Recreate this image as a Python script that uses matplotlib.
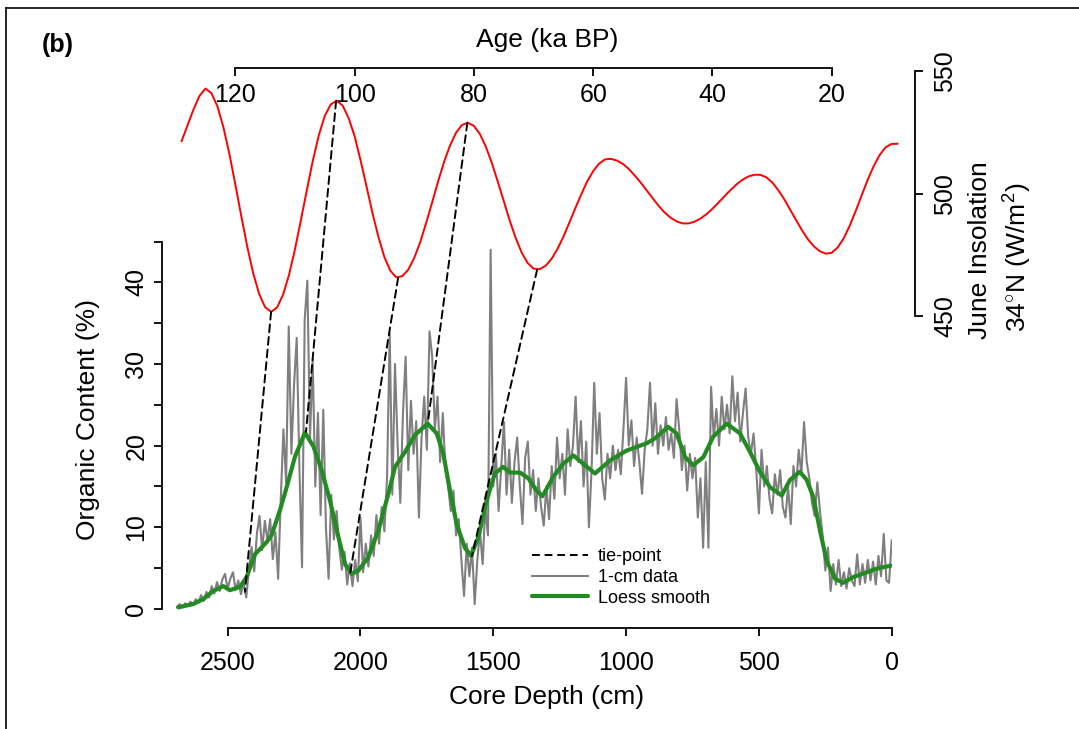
import numpy as np
import matplotlib.pyplot as plt
from matplotlib.lines import Line2D
from matplotlib.patches import ConnectionPatch

plt.rcParams['font.family'] = ['Liberation Sans', 'DejaVu Sans']
plt.rcParams['mathtext.fontset'] = 'custom'
plt.rcParams['mathtext.rm'] = 'Liberation Sans'
plt.rcParams['mathtext.it'] = 'Liberation Sans:italic'

# organic content record, read every 10 cm down the core
depth_cm = np.arange(2690, -1, -10)
organic_pct = [
    0.3, 0.6, 0.2, 0.7, 0.4, 0.9, 0.5, 1.2, 0.8, 1.7,
    1.0, 2.1, 1.4, 2.8, 1.9, 3.3, 2.2, 3.6, 4.3, 2.5,
    3.7, 4.5, 2.3, 3.5, 1.8, 3.2, 1.4, 4.8, 7.6, 4.6,
    9.2, 11.4, 7.2, 10.8, 8.3, 11.0, 6.1, 9.4, 3.7, 13.5,
    22.0, 15.5, 34.6, 19.0, 27.5, 33.2, 17.5, 5.1, 35.4, 40.2,
    21.0, 30.5, 15.0, 24.0, 11.5, 24.4, 10.0, 3.7, 14.0, 8.5,
    12.0, 7.5, 4.8, 7.0, 3.0, 5.6, 2.8, 6.0, 3.4, 11.2,
    4.5, 8.0, 5.2, 9.0, 6.5, 11.5, 8.0, 12.5, 9.5, 16.0,
    33.8, 14.0, 30.0, 20.0, 13.0, 24.0, 30.9, 17.0, 25.5, 19.0,
    23.0, 11.2, 21.0, 26.0, 19.5, 34.0, 30.9, 22.0, 26.0, 18.0,
    24.0, 17.0, 15.0, 12.0, 14.5, 9.0, 11.0, 6.0, 1.6, 8.0,
    4.0, 7.5, 0.6, 6.0, 9.5, 5.5, 12.5, 9.0, 44.0, 15.0,
    19.0, 12.0, 17.5, 22.9, 14.0, 19.5, 13.0, 18.0, 21.0, 15.0,
    10.4, 18.5, 20.5, 14.0, 17.0, 12.0, 16.0, 12.5, 10.2, 15.0,
    11.0, 17.5, 13.5, 21.0, 16.0, 19.0, 14.0, 22.0, 17.5, 20.0,
    26.0, 18.0, 23.0, 15.0, 20.5, 10.0, 17.0, 27.7, 19.0, 24.0,
    16.0, 13.4, 19.0, 16.0, 20.0, 17.0, 19.5, 16.5, 22.0, 28.3,
    20.0, 23.1, 17.5, 21.0, 18.0, 14.1, 19.5, 22.0, 27.7, 20.0,
    25.2, 19.0, 22.5, 20.0, 23.5, 19.5, 21.5, 18.5, 25.7, 22.0,
    17.0, 20.0, 14.5, 19.0, 16.0, 18.5, 11.2, 16.0, 7.5, 18.0,
    7.5, 27.2, 21.0, 24.5, 20.0, 26.0, 22.0, 25.0, 21.5, 28.5,
    23.0, 26.5, 20.5, 24.0, 27.0, 21.0, 19.0, 21.5, 17.0, 11.7,
    19.5, 15.0, 17.5, 13.5, 11.7, 16.5, 14.0, 17.0, 12.5, 11.2,
    15.0, 10.4, 17.5, 15.0, 19.5, 16.5, 22.9, 18.0, 16.0, 13.0,
    11.4, 15.5, 12.0, 9.0, 4.7, 7.5, 2.2, 5.5, 3.0, 6.0,
    2.8, 4.5, 2.5, 5.0, 3.5, 2.8, 6.7, 3.0, 5.5, 3.2,
    6.0, 3.5, 5.8, 3.0, 6.5, 4.0, 9.2, 3.5, 3.2, 8.4,
]

# loess smooth of the record
loess_depth = [2686, 2630, 2592, 2554, 2516, 2492, 2454, 2429, 2397, 2353,
               2335, 2303, 2278, 2247, 2209, 2177, 2146, 2115, 2083, 2058,
               2033, 2008, 1971, 1933, 1895, 1870, 1833, 1795, 1747, 1713,
               1688, 1663, 1638, 1607, 1584, 1556, 1525, 1494, 1463, 1437,
               1399, 1368, 1337, 1315, 1274, 1236, 1198, 1162, 1117, 1060,
               998, 922, 891, 842, 810, 778, 747, 709, 672, 621,
               571, 533, 496, 458, 414, 383, 346, 320, 295, 270,
               245, 213, 183, 145, 94, 50, 3]
loess_oc = [0.2, 0.6, 1.2, 2.2, 2.8, 2.3, 2.7, 3.9, 6.7, 8.2,
            9.0, 12.1, 14.9, 18.6, 21.6, 19.9, 17.0, 13.3, 8.8, 5.5,
            4.3, 4.7, 6.3, 9.6, 14.1, 17.4, 19.2, 21.3, 22.7, 21.5,
            19.0, 14.5, 10.4, 7.5, 6.5, 8.8, 13.3, 16.6, 17.4, 16.7,
            16.7, 16.0, 14.5, 13.8, 16.2, 17.8, 18.8, 17.8, 16.6, 18.2,
            19.4, 20.3, 20.9, 22.3, 21.5, 18.6, 17.6, 18.6, 21.1, 22.7,
            21.5, 19.2, 16.8, 14.9, 13.9, 15.8, 16.8, 15.8, 13.7, 9.6,
            5.9, 3.7, 3.2, 3.9, 4.5, 5.0, 5.3]

# June insolation at 34N
age_ka = np.arange(129, 8, -1)
insolation = [
    521.5, 528.0, 534.5, 540.0, 543.0, 541.1, 535.7, 527.2, 516.3, 503.8,
    490.8, 478.3, 467.4, 458.9, 453.5, 451.6, 453.4, 458.6, 466.7, 477.2,
    489.2, 501.5, 513.5, 523.9, 531.8, 536.5, 538.0, 536.0, 530.9, 523.5,
    513.6, 502.9, 492.0, 482.2, 474.0, 468.4, 465.7, 466.2, 468.9, 473.7,
    480.1, 488.0, 496.4, 505.0, 513.0, 519.7, 524.9, 528.1, 529.0, 527.7,
    524.4, 519.2, 512.6, 504.9, 497.0, 489.0, 481.9, 475.9, 471.6, 469.3,
    469.0, 470.4, 473.2, 477.3, 482.3, 488.1, 494.0, 499.7, 505.0, 509.2,
    512.3, 514.0, 514.2, 513.5, 512.1, 510.0, 507.3, 504.4, 501.2, 498.0,
    494.9, 492.2, 490.1, 488.6, 487.8, 487.8, 488.5, 489.8, 491.6, 493.8,
    496.3, 498.9, 501.4, 503.7, 505.6, 507.0, 507.7, 507.7, 506.7, 504.6,
    501.5, 497.8, 493.5, 489.2, 485.0, 481.3, 478.4, 476.4, 475.4, 475.8,
    478.0, 481.7, 486.8, 492.8, 499.2, 505.5, 511.1, 515.7, 518.9, 520.3,
    520.4,
]

# tie points: insolation extreme -> core depth
tie_age = [114.0, 103.1, 92.7, 81.1, 69.4]
tie_ins = [451.6, 538.0, 465.6, 529.0, 468.9]
tie_depth = [2435, 2205, 2039, 1746, 1580]
tie_oc = [2.1, 21.7, 4.3, 22.9, 6.5]

W, H = 1079, 729
fig = plt.figure(figsize=(W / 100, H / 100), dpi=100)


def box(x0, y0, x1, y1):
    return [x0 / W, 1 - y1 / H, (x1 - x0) / W, (y1 - y0) / H]


FS = 18    # tick labels
LFS = 19   # axis titles
ax = fig.add_axes(box(174, 234, 892, 616))
ax.set_xlim(2702, -1.1)
ax.set_ylim(-0.86, 45.92)
ax.patch.set_alpha(0)

grey_line, = ax.plot(depth_cm, organic_pct, color='#7f7f7f', lw=1.5, zorder=2)
green_line, = ax.plot(loess_depth, loess_oc, color='#228b22', lw=3.0, zorder=4,
                      solid_capstyle='round', solid_joinstyle='round')

for s in ['top', 'right']:
    ax.spines[s].set_visible(False)
ax.spines['left'].set_position(('outward', 8.9))
ax.spines['bottom'].set_position(('outward', 8.9))
ax.spines['left'].set_bounds(0, 45)
ax.spines['bottom'].set_bounds(2500, 0)
for s in ['left', 'bottom']:
    ax.spines[s].set_linewidth(1.3)

ax.set_xticks([2500, 2000, 1500, 1000, 500, 0])
ax.set_yticks([0, 10, 20, 30, 40])
ax.set_yticks([5, 15, 25, 35, 45], minor=True)
ax.tick_params(axis='both', which='both', direction='out', length=6, width=1.3,
               labelsize=FS)
ax.tick_params(axis='x', pad=10)
ax.tick_params(axis='y', pad=3.5)
plt.setp(ax.get_yticklabels(), rotation=90, va='center')

# insolation axes on top
ax2 = fig.add_axes(box(170, 68, 915, 316))
ax2.set_xlim(130.95, 6.05)
ax2.set_ylim(449.9, 551.4)
ax2.patch.set_alpha(0)
ax2.plot(age_ka, insolation, color='red', lw=1.4)
for s in ['left', 'bottom']:
    ax2.spines[s].set_visible(False)
ax2.spines['top'].set_bounds(120, 20)
ax2.spines['right'].set_bounds(450, 550)
for s in ['top', 'right']:
    ax2.spines[s].set_linewidth(1.3)
ax2.set_xticks([120, 100, 80, 60, 40, 20])
ax2.set_yticks([450, 500, 550])
ax2.tick_params(axis='x', bottom=False, labelbottom=False, top=True, labeltop=True,
                direction='in', length=6, width=1.3, labelsize=FS, pad=-28)
ax2.tick_params(axis='y', left=False, labelleft=False, right=True, labelright=True,
                direction='out', length=6, width=1.3, labelsize=FS, pad=7)
plt.setp(ax2.get_yticklabels(), rotation=90, va='center')

for a, i, d, o in zip(tie_age, tie_ins, tie_depth, tie_oc):
    con = ConnectionPatch(xyA=(a, i), coordsA=ax2.transData,
                          xyB=(d, o), coordsB=ax.transData,
                          color='black', lw=1.4, linestyle=(0, (4, 2.5)), zorder=3)
    fig.add_artist(con)

tie_handle = Line2D([], [], color='black', lw=1.4, linestyle=(0, (4, 2.5)))
ax.legend([tie_handle, grey_line, green_line], ['tie-point', '1-cm data', 'Loess smooth'],
          loc='center left', bbox_to_anchor=(531.7 / W, 1 - 577.5 / H),
          bbox_transform=fig.transFigure, frameon=False, fontsize=13,
          handlelength=3.1, handletextpad=0.55, labelspacing=0.2,
          borderpad=0, borderaxespad=0)

fig.text(41.7 / W, 1 - 45 / H, '(b)', fontsize=FS, fontweight='bold', ha='left', va='center')
fig.text(547.5 / W, 1 - 40 / H, 'Age (ka BP)', fontsize=LFS, ha='center', va='center')
fig.text(547 / W, 1 - 697 / H, 'Core Depth (cm)', fontsize=LFS, ha='center', va='center')
fig.text(88 / W, 1 - 419 / H, 'Organic Content (%)', fontsize=LFS, rotation=90,
         ha='center', va='center')
fig.text(980 / W, 1 - 250 / H, 'June Insolation', fontsize=LFS, rotation=90,
         ha='center', va='center')
fig.text(1018 / W, 1 - 257 / H, '34$^{\\circ}$N (W/m$^2$)', fontsize=LFS, rotation=90,
         ha='center', va='center')

# frame edges of the panel
fig.add_artist(Line2D([6 / W, 6 / W], [0, 1 - 8 / H], transform=fig.transFigure,
                      color='black', lw=1.2))
fig.add_artist(Line2D([6 / W, 1], [1 - 8 / H, 1 - 8 / H], transform=fig.transFigure,
                      color='black', lw=1.2))

fig.savefig('out.png', dpi=100)
